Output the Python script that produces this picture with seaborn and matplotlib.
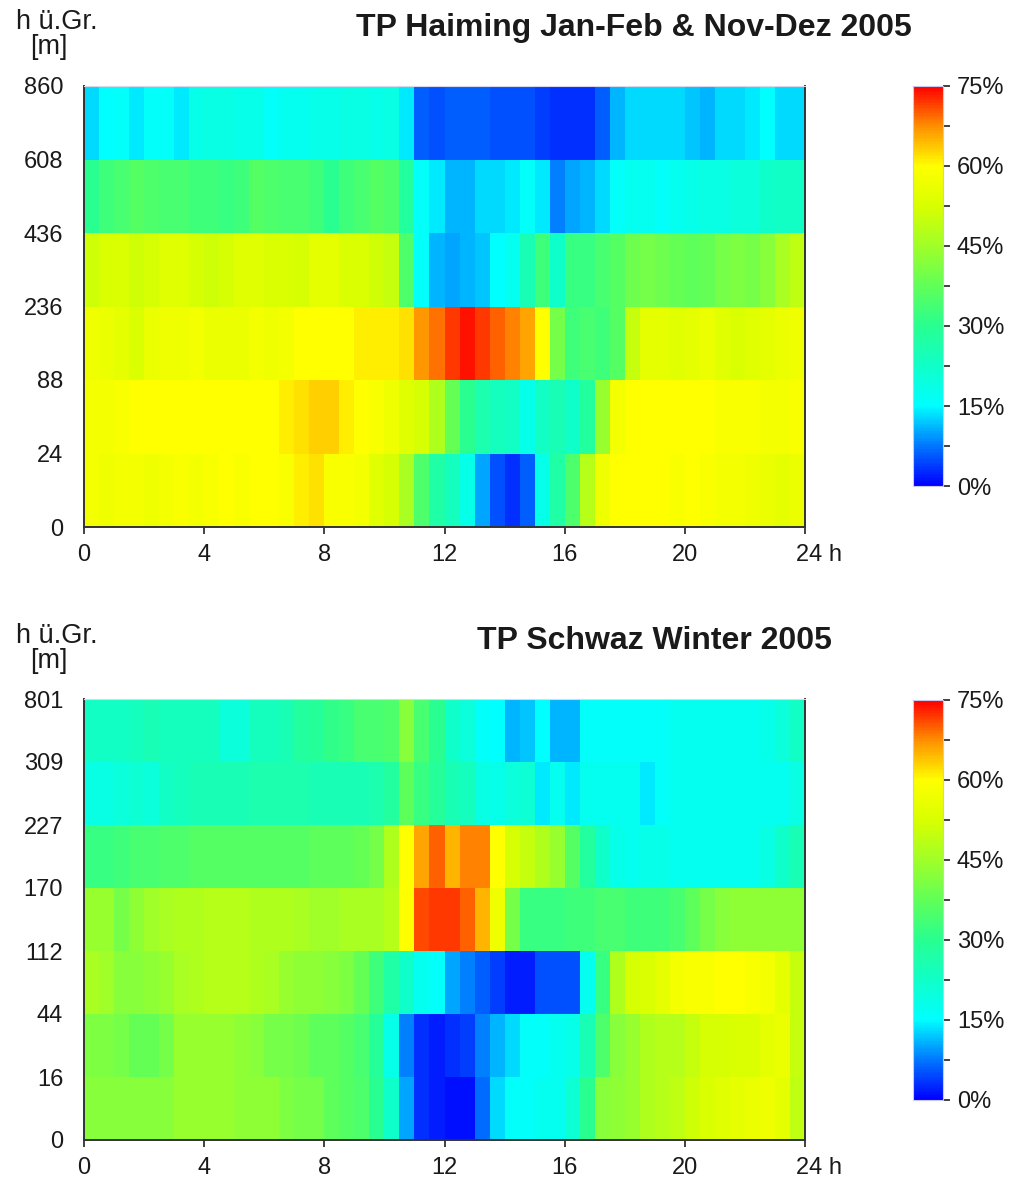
import numpy as np
import pandas as pd
import seaborn as sns
import matplotlib
matplotlib.use("Agg")
import matplotlib.pyplot as plt
from matplotlib.colors import LinearSegmentedColormap
from matplotlib.ticker import FixedLocator
from matplotlib.transforms import ScaledTranslation

# ---------------- data ----------------
# half-hourly columns 0:00 .. 23:30, values in %
half_hours = [f"{h // 2:02d}:{(h % 2) * 30:02d}" for h in range(48)]
hour_ticks = [0, 4, 8, 12, 16, 20, 24]
hour_tick_labels = ["0", "4", "8", "12", "16", "20", "24 h"]

# TP Haiming: height band boundaries [m]
haiming_heights = [0, 24, 88, 236, 436, 608, 860]
ham_0_24 = [58, 57, 58, 58, 57, 58, 59, 58, 59, 60, 59, 60, 60, 59, 61, 62,
            59, 59, 58, 54, 52, 46, 35, 27, 24, 18, 10, 5, 3, 6, 18, 27,
            35, 48, 57, 60, 60, 60, 60, 59, 60, 59, 58, 58, 57, 56, 55, 56]
ham_24_88 = [58, 58, 59, 60, 60, 60, 60, 60, 60, 60, 60, 60, 60, 61, 62, 63,
             63, 61, 60, 59, 57, 54, 52, 47, 38, 30, 26, 24, 23, 18, 23, 25,
             22, 28, 44, 58, 60, 60, 60, 60, 60, 60, 59, 59, 59, 58, 58, 59]
ham_88_236 = [57, 56, 55, 53, 56, 57, 57, 58, 56, 56, 56, 58, 57, 58, 60, 60,
              60, 60, 61, 61, 61, 62, 67, 69, 72, 74, 72, 70, 68, 66, 60, 40,
              33, 34, 33, 36, 50, 55, 55, 54, 55, 56, 54, 53, 54, 55, 56, 57]
ham_236_436 = [51, 53, 53, 51, 52, 54, 54, 52, 51, 52, 54, 54, 53, 53, 52, 55,
               55, 53, 53, 51, 50, 35, 16, 11, 10, 11, 12, 15, 17, 25, 33, 22,
               32, 32, 34, 36, 39, 40, 39, 38, 37, 38, 40, 41, 40, 42, 46, 49]
ham_436_608 = [30, 33, 34, 36, 35, 34, 34, 33, 33, 32, 33, 36, 35, 34, 34, 33,
               30, 33, 34, 36, 35, 28, 16, 14, 11, 11, 13, 13, 14, 16, 14, 8,
               10, 11, 13, 16, 17, 17, 16, 17, 18, 19, 19, 20, 20, 22, 23, 23]
ham_608_860 = [13, 15, 16, 14, 16, 16, 14, 18, 19, 19, 18, 18, 16, 17, 17, 18,
               18, 19, 19, 18, 19, 14, 6, 5, 6, 6, 6, 5, 5, 5, 4, 3,
               3, 3, 6, 11, 13, 13, 13, 13, 12, 11, 13, 13, 14, 15, 13, 13]

# TP Schwaz: height band boundaries [m]
schwaz_heights = [0, 16, 44, 112, 170, 227, 309, 801]
sch_0_16 = [42, 42, 42, 42, 42, 42, 44, 44, 44, 44, 43, 43, 43, 41, 40, 40,
            37, 36, 35, 30, 22, 10, 3, 2, 1, 1, 7, 13, 16, 16, 17, 17,
            21, 30, 42, 43, 44, 47, 48, 49, 51, 53, 54, 55, 56, 57, 55, 49]
sch_16_44 = [41, 41, 40, 38, 38, 40, 44, 44, 44, 44, 43, 42, 40, 40, 39, 37,
             37, 36, 34, 29, 18, 8, 3, 2, 3, 4, 8, 11, 13, 16, 16, 17,
             18, 25, 35, 42, 44, 47, 48, 48, 50, 52, 52, 53, 53, 55, 56, 50]
sch_44_112 = [46, 45, 42, 42, 43, 44, 46, 47, 48, 48, 48, 47, 46, 44, 43, 43,
              42, 41, 38, 33, 27, 22, 17, 16, 10, 8, 6, 4, 2, 2, 5, 5,
              5, 17, 32, 47, 52, 53, 55, 58, 59, 59, 60, 60, 59, 58, 55, 50]
sch_112_170 = [44, 44, 40, 43, 45, 46, 47, 47, 48, 48, 48, 47, 47, 47, 46, 45,
               45, 46, 46, 46, 48, 60, 71, 72, 72, 70, 65, 57, 40, 32, 32, 32,
               33, 33, 34, 34, 33, 33, 33, 34, 37, 40, 42, 43, 43, 43, 43, 43]
sch_170_227 = [32, 32, 33, 34, 34, 35, 35, 36, 36, 36, 36, 36, 36, 36, 36, 37,
               37, 37, 38, 40, 47, 60, 66, 70, 65, 68, 68, 60, 52, 50, 47, 44,
               36, 28, 22, 18, 17, 18, 18, 17, 17, 17, 17, 17, 17, 19, 22, 25]
sch_227_309 = [19, 19, 20, 21, 20, 23, 24, 25, 25, 25, 25, 26, 26, 26, 26, 25,
               25, 25, 25, 26, 28, 37, 32, 29, 25, 24, 19, 18, 20, 21, 14, 17,
               14, 17, 17, 17, 17, 14, 16, 17, 17, 17, 17, 17, 17, 17, 17, 19]
sch_309_801 = [23, 23, 23, 24, 25, 24, 24, 24, 24, 20, 20, 24, 24, 25, 28, 29,
               31, 32, 34, 34, 35, 42, 34, 30, 22, 20, 16, 15, 11, 12, 15, 11,
               11, 16, 16, 16, 16, 16, 16, 17, 17, 17, 17, 17, 17, 18, 20, 23]

haiming_bands = [ham_0_24, ham_24_88, ham_88_236, ham_236_436, ham_436_608, ham_608_860]
schwaz_bands = [sch_0_16, sch_16_44, sch_44_112, sch_112_170, sch_170_227, sch_227_309, sch_309_801]

cbar_ticks = [0, 15, 30, 45, 60, 75]
cbar_minor = [7.5, 22.5, 37.5, 52.5, 67.5]

# ---------------- style ----------------
sns.set_style("white")
plt.rcParams['font.family'] = ['Liberation Sans', 'DejaVu Sans']
TXT = '#1a1a1a'

cmap = LinearSegmentedColormap.from_list('tp', [
    (0.0, '#0000ff'), (0.1, '#0078ff'), (0.2, '#00ffff'), (0.3, '#10ffc8'),
    (0.4, '#28ff90'), (0.5, '#60ff58'), (0.6, '#a0ff28'), (0.7, '#d8ff00'),
    (0.8, '#ffff00'), (0.9, '#ff9000'), (1.0, '#ff0000')])

W, H = 1018, 1180
fig = plt.figure(figsize=(W / 100, H / 100), dpi=100)


def rect(l, t, r, b):
    return [l / W, 1 - b / H, (r - l) / W, (b - t) / H]


def draw(ax_rect, cax_rect, bands, heights, title, title_xy, lab_y):
    ax = fig.add_axes(rect(*ax_rect))
    cax = fig.add_axes(rect(*cax_rect))
    band_names = [f"{heights[i]}-{heights[i + 1]}" for i in range(len(bands))]
    df = pd.DataFrame(bands[::-1], index=band_names[::-1], columns=half_hours)
    sns.heatmap(df, ax=ax, cmap=cmap, vmin=0, vmax=75, cbar_ax=cax,
                xticklabels=False, yticklabels=False, linewidths=0)
    n = len(bands)
    ax.set_yticks(np.arange(n + 1))
    ax.set_yticklabels([str(h) for h in heights[::-1]], rotation=0)
    ax.set_xticks([h * 2 for h in hour_ticks])
    ax.set_xticklabels(hour_tick_labels, rotation=0)
    ax.set_xlabel('')
    ax.set_ylabel('')
    for side, sp in ax.spines.items():
        sp.set_visible(True)
        if side == 'top':
            sp.set_color('#d8d8e8')
            sp.set_linewidth(0.8)
        else:
            sp.set_color('#333333')
            sp.set_linewidth(1.4)
    ax.tick_params(axis='y', left=False, length=0, pad=15, labelsize=17, labelcolor=TXT)
    ax.tick_params(axis='x', bottom=True, length=5, width=1.3, color='#333333',
                   direction='out', pad=7, labelsize=17, labelcolor=TXT)
    lab = ax.get_xticklabels()[-1]
    lab.set_ha('left')
    lab.set_transform(lab.get_transform() + ScaledTranslation(-9 / 100, 0, fig.dpi_scale_trans))

    cbar = ax.collections[0].colorbar
    cbar.set_ticks(cbar_ticks)
    cbar.set_ticklabels([f"{t}%" for t in cbar_ticks])
    cax.yaxis.set_minor_locator(FixedLocator(cbar_minor))
    cax.tick_params(which='both', right=True, length=5, width=1.3, color='#333333',
                    labelsize=17, pad=5, labelcolor=TXT)
    cbar.outline.set_edgecolor('#c8c8f0')
    cbar.outline.set_linewidth(0.8)

    fig.text(title_xy[0] / W, 1 - title_xy[1] / H, title, ha='center', va='center',
             fontsize=23, fontweight='bold', color=TXT)
    fig.text(57 / W, 1 - lab_y / H, 'h ü.Gr.', ha='center', va='center', fontsize=19.5, color=TXT)
    fig.text(49 / W, 1 - (lab_y + 25) / H, '[m]', ha='center', va='center', fontsize=19.5, color=TXT)


draw((84, 86, 805, 527), (913, 86, 943, 486), haiming_bands, haiming_heights,
     'TP Haiming Jan-Feb & Nov-Dez 2005', (634, 28), 22)
draw((84, 699, 805, 1140), (913, 700, 943, 1100), schwaz_bands, schwaz_heights,
     'TP Schwaz Winter 2005', (654, 641), 636)

fig.savefig('out.png', dpi=100)
